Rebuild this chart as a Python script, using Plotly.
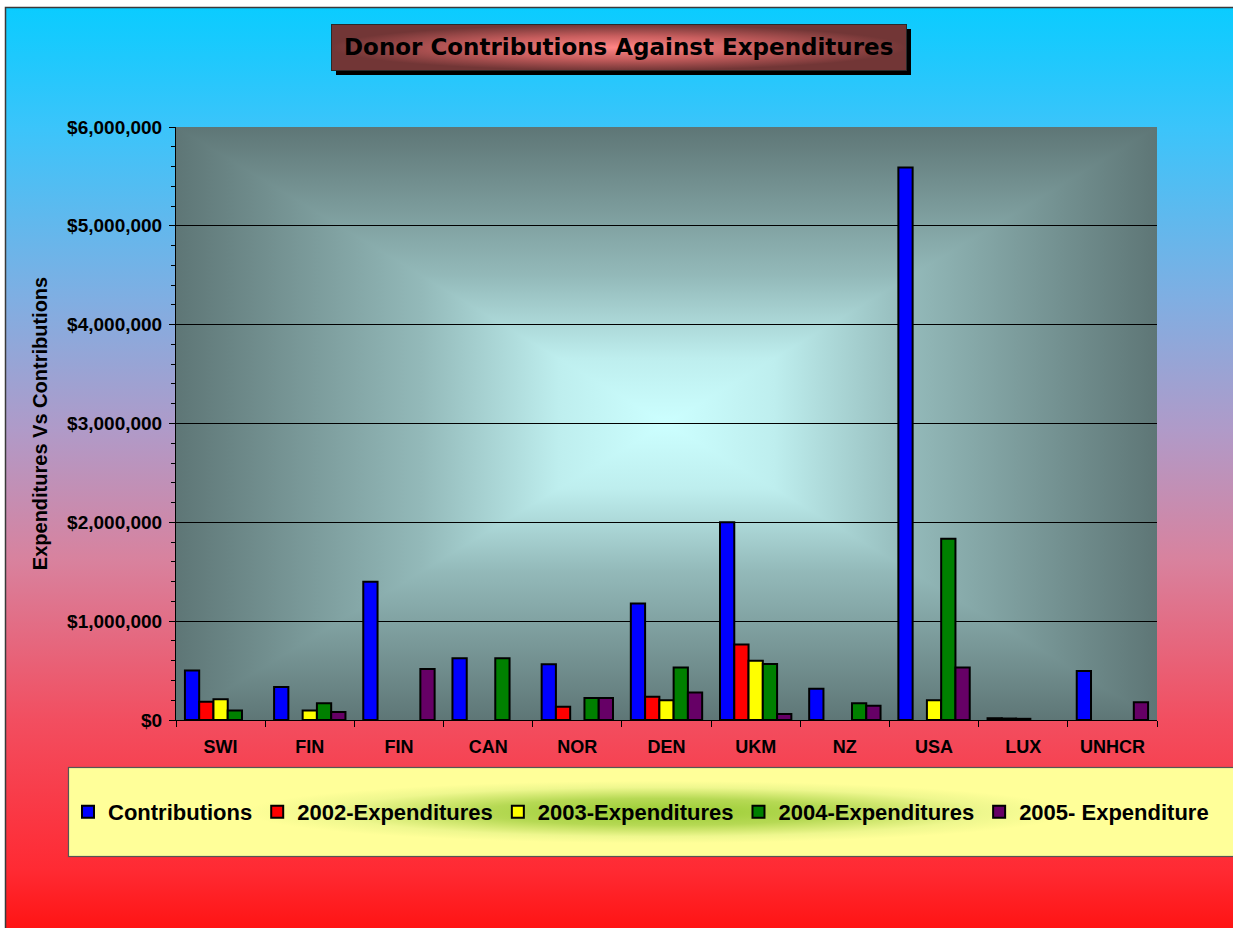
import base64
import plotly.graph_objects as go

# ---------------- data ----------------
categories = ["SWI", "FIN", "FIN\u200b", "CAN", "NOR", "DEN", "UKM", "NZ", "USA", "LUX", "UNHCR"]
contributions = [500000, 335000, 1400000, 625000, 565000, 1180000, 2000000, 315000, 5590000, 18000, 495000]
exp_2002 = [185000, None, None, None, 135000, 236000, 765000, None, None, 15000, None]
exp_2003 = [210000, 95000, None, None, None, 200000, 600000, None, 200000, 12000, None]
exp_2004 = [95000, 170000, None, 625000, 223000, 530000, 567000, 170000, 1835000, None, None]
exp_2005 = [None, 80000, 515000, None, 223000, 277000, 60000, 145000, 530000, None, 180000]

series_names = ["Contributions", "2002-Expenditures", "2003-Expenditures",
                "2004-Expenditures", "2005- Expenditure"]
series_values = [contributions, exp_2002, exp_2003, exp_2004, exp_2005]
series_colors = ["#0000FF", "#FF0000", "#FFFF00", "#008000", "#660066"]

title_text = "Donor Contributions Against Expenditures"
y_title = "Expenditures Vs Contributions"

# ---------------- geometry (pixels) ----------------
W, H = 1233, 928
PL, PR, PT, PB = 176, 1157, 127, 720
PW, PH = PR - PL, PB - PT
CX, CY = (PL + PR) / 2, (PT + PB) / 2

def px_x(x):
    return (x - PL) / PW

def px_y(y):
    return (PB - y) / PH

# ---------------- background artwork (SVG) ----------------
plot_stops = ('<stop offset="0" stop-color="#5E7676"/>'
              '<stop offset="0.5" stop-color="#93B9B9"/>'
              '<stop offset="0.78" stop-color="#BEEEEE"/>'
              '<stop offset="1" stop-color="#CCFFFF"/>')
svg = f'''<svg xmlns="http://www.w3.org/2000/svg" width="{W}" height="{H}" viewBox="0 0 {W} {H}" preserveAspectRatio="none">
<defs>
<linearGradient id="bg" x1="0" y1="7" x2="0" y2="928" gradientUnits="userSpaceOnUse">
<stop offset="0" stop-color="#0ACCFF"/>
<stop offset="0.134" stop-color="#3CC4FA"/>
<stop offset="0.318" stop-color="#80AEE2"/>
<stop offset="0.46" stop-color="#B09AC8"/>
<stop offset="0.6" stop-color="#D8829E"/>
<stop offset="0.774" stop-color="#F24E60"/>
<stop offset="0.937" stop-color="#FF2A33"/>
<stop offset="1" stop-color="#FF1414"/>
</linearGradient>
<linearGradient id="gt" x1="0" y1="{PT}" x2="0" y2="{CY}" gradientUnits="userSpaceOnUse">{plot_stops}</linearGradient>
<linearGradient id="gb" x1="0" y1="{PB}" x2="0" y2="{CY}" gradientUnits="userSpaceOnUse">{plot_stops}</linearGradient>
<linearGradient id="gl" x1="{PL}" y1="0" x2="{CX}" y2="0" gradientUnits="userSpaceOnUse">{plot_stops}</linearGradient>
<linearGradient id="gr" x1="{PR}" y1="0" x2="{CX}" y2="0" gradientUnits="userSpaceOnUse">{plot_stops}</linearGradient>
<radialGradient id="tb" cx="0.5" cy="0.5" r="0.5">
<stop offset="0" stop-color="#FF8585"/>
<stop offset="0.5" stop-color="#C85E5E"/>
<stop offset="1" stop-color="#723636"/>
</radialGradient>
<radialGradient id="lg" cx="0.5" cy="0.5" r="0.5">
<stop offset="0" stop-color="#99CC33"/>
<stop offset="0.3" stop-color="#B6D954"/>
<stop offset="0.55" stop-color="#EEF78E"/>
<stop offset="0.7" stop-color="#FFFF99"/>
<stop offset="1" stop-color="#FFFF99"/>
</radialGradient>
</defs>
<rect x="5.5" y="7.5" width="1240" height="930" fill="url(#bg)" stroke="#3A3A3A" stroke-width="1.5"/>
<g shape-rendering="crispEdges">
<polygon points="{PL},{PT} {PR},{PT} {CX},{CY}" fill="url(#gt)"/>
<polygon points="{PL},{PB} {PR},{PB} {CX},{CY}" fill="url(#gb)"/>
<polygon points="{PL},{PT} {PL},{PB} {CX},{CY}" fill="url(#gl)"/>
<polygon points="{PR},{PT} {PR},{PB} {CX},{CY}" fill="url(#gr)"/>
</g>
<rect x="336" y="29" width="575" height="46" fill="#000000"/>
<rect x="331.5" y="24.5" width="575" height="46" fill="url(#tb)" stroke="#2A2A2A" stroke-width="1"/>
<rect x="68.5" y="767.5" width="1180" height="89" fill="url(#lg)" stroke="#555555" stroke-width="1.2"/>
</svg>'''
svg_uri = "data:image/svg+xml;base64," + base64.b64encode(svg.encode()).decode()

# ---------------- figure ----------------
fig = go.Figure()
for name, vals, col in zip(series_names, series_values, series_colors):
    fig.add_trace(go.Bar(
        x=categories, y=vals, name=name,
        marker=dict(color=col, line=dict(color="#000000", width=2)),
    ))

font_main = "Liberation Sans, Arial, sans-serif"

fig.update_layout(
    width=W, height=H,
    margin=dict(l=PL, r=W - PR, t=PT, b=H - PB, pad=0),
    paper_bgcolor="#FFFFFF",
    plot_bgcolor="rgba(0,0,0,0)",
    barmode="group", bargap=0.2, bargroupgap=0,
    font=dict(family=font_main, color="#000000", size=18, weight="bold"),
    showlegend=True,
    legend=dict(
        orientation="h", x=px_x(68), xanchor="left", y=px_y(812), yanchor="middle",
        bgcolor="rgba(0,0,0,0)", borderwidth=0,
        font=dict(family=font_main, size=22, color="#000000", weight="bold"),
        traceorder="normal",
    ),
    images=[dict(
        source=svg_uri, xref="paper", yref="paper",
        x=px_x(0), y=px_y(0), sizex=W / PW, sizey=H / PH,
        xanchor="left", yanchor="top", sizing="stretch", layer="below",
    )],
    annotations=[dict(
        text=title_text, xref="paper", yref="paper",
        x=px_x(618.5), y=px_y(47), xanchor="center", yanchor="middle",
        showarrow=False,
        font=dict(family="DejaVu Sans, sans-serif", size=23, color="#000000", weight="bold"),
    )],
)

fig.update_yaxes(
    range=[0, 6000000], dtick=1000000, tickformat="$,.0f",
    showgrid=True, gridcolor="#000000", gridwidth=1,
    showline=True, linecolor="#000000", linewidth=1,
    ticks="outside", ticklen=6, tickcolor="#000000", tickwidth=1,
    minor=dict(dtick=200000, ticks="outside", ticklen=4, tickcolor="#000000", showgrid=False),
    zeroline=False, ticklabelstandoff=3,
    tickfont=dict(size=19, family=font_main, weight="bold"),
    title=dict(text=y_title, standoff=14,
               font=dict(size=20, family=font_main, weight="bold")),
)
fig.update_xaxes(
    type="category",
    showgrid=False,
    showline=True, linecolor="#000000", linewidth=1,
    ticks="outside", tickson="boundaries", ticklen=6, tickcolor="#000000",
    ticklabelstandoff=10,
    tickfont=dict(size=18, family=font_main, weight="bold"),
)

fig.write_html("out.html", config={"displayModeBar": False},
               post_script="document.body.style.margin='0px';document.body.style.overflow='hidden';")
